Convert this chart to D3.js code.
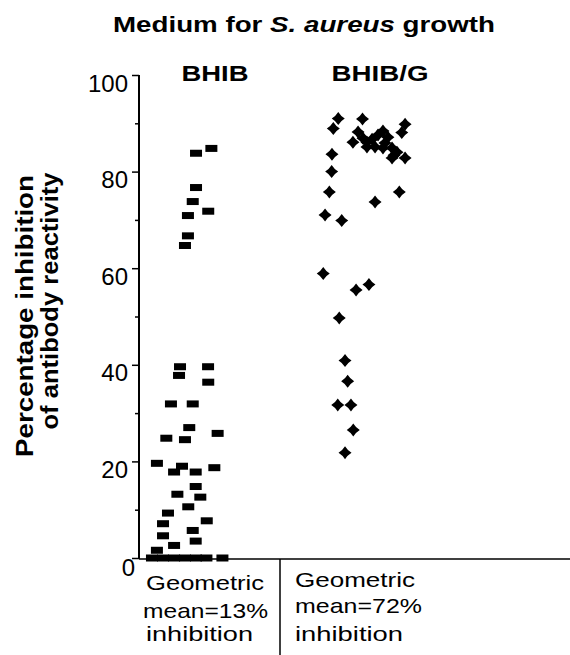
<!DOCTYPE html>
<html>
<head>
<meta charset="utf-8">
<script src="https://cdn.jsdelivr.net/npm/d3@7"></script>
<style>
  body { margin: 0; background: #fff; }
  svg { display: block; }
  text { font-family: "Liberation Sans", Arial, sans-serif; fill: #000; }
</style>
</head>
<body>
<div id="chart"></div>
<script>
// groups and their labels
var groups = ["BHIB", "BHIB/G"];
var groupPos = [1, 2];
var meanLines = [["Geometric", "mean=13%", "inhibition"], ["Geometric", "mean=72%", "inhibition"]];

// y axis ticks
var majorTicks = [0, 20, 40, 60, 80, 100];
var minorTicks = [10, 30, 50, 70, 90];

// BHIB points: jittered group position and % inhibition
var bhibX = [0.885, 0.978, 0.885, 0.865, 0.959, 0.836, 0.836, 0.818,
             0.788, 0.782, 0.958, 0.959,
             0.733, 0.865, 0.844, 0.705, 0.818, 1.016, 0.648, 0.800, 0.752, 0.883, 0.996,
             0.883, 0.772, 0.911, 0.838, 0.715, 0.685, 0.950, 0.685, 0.865, 0.752, 0.883, 0.648,
             0.618, 0.685, 0.752, 0.818, 0.885, 0.948, 1.045];
var bhibY = [83.8, 84.8, 76.7, 73.8, 71.8, 70.9, 66.7, 64.7,
             39.6, 37.8, 39.6, 36.4,
             31.9, 31.9, 27.0, 24.8, 24.5, 25.8, 19.6, 19.0, 17.8, 17.8, 18.7,
             14.8, 13.2, 12.6, 10.6, 9.3, 7.1, 7.7, 4.6, 5.7, 2.6, 3.5, 1.6,
             0, 0, 0, 0, 0, 0, 0];

// BHIB/G points
var bhibgX = [1.747, 1.717, 1.894, 2.152, 2.132, 1.709, 1.707, 1.693, 2.117, 1.970, 1.667,
              1.768, 1.656, 1.855, 1.933, 1.753, 1.788, 1.804, 1.744, 1.824, 1.838, 1.788,
              1.867, 1.836, 1.897, 1.921, 1.952, 1.988, 2.018, 2.048, 1.921, 1.970, 2.030,
              2.073, 2.085, 2.103, 2.152, 2.073, 2.018];
var bhibgY = [91.0, 88.9, 90.9, 89.8, 88.1, 83.6, 80.0, 75.8, 75.8, 73.7, 71.0,
              69.9, 58.9, 55.5, 56.6, 49.7, 40.9, 36.6, 31.7, 31.7, 26.5, 21.8,
              88.2, 86.1, 86.9, 86.1, 86.7, 87.6, 88.4, 87.1, 85.1, 85.1, 85.9,
              84.9, 83.4, 84.0, 82.8, 82.8, 84.9];

var width = 570, height = 655;
var axisX = 139;

var svg = d3.select("#chart").append("svg")
    .attr("width", width)
    .attr("height", height);

var x = d3.scaleLinear().domain([1, 2]).range([215, 380]);
var y = d3.scaleLinear().domain([0, 100]).range([558, 75]);

// stretch a text element to a given width (the original font is wide)
function fit(sel, w) {
    sel.attr("textLength", w).attr("lengthAdjust", "spacingAndGlyphs");
}

// title
var title = svg.append("text")
    .attr("x", 113).attr("y", 32)
    .attr("font-size", 22).attr("font-weight", "bold");
title.append("tspan").text("Medium for ");
title.append("tspan").attr("font-style", "italic").text("S. aureus");
title.append("tspan").text(" growth");
fit(title, 382);

// group labels
svg.selectAll(".group-label")
   .data(groups)
   .enter().append("text")
   .attr("class", "group-label")
   .attr("x", function(d, i) { return x(groupPos[i]); })
   .attr("y", 81)
   .attr("text-anchor", "middle")
   .attr("font-size", 22)
   .attr("font-weight", "bold")
   .text(function(d) { return d; })
   .each(function(d, i) { fit(d3.select(this), i === 0 ? 67 : 97); });

// y axis: major ticks with labels
var yAxis = svg.append("g")
    .attr("transform", "translate(" + axisX + ",0)")
    .call(d3.axisLeft(y).tickValues(majorTicks).tickSize(7).tickSizeOuter(0).tickPadding(4));
yAxis.select(".domain").attr("stroke-width", 2).attr("d", "M0," + (y(100)) + "V" + (y(0) + 1));
yAxis.selectAll(".tick line").attr("stroke-width", 1.5);
yAxis.selectAll(".tick text")
     .attr("font-family", "Liberation Sans, Arial, sans-serif")
     .attr("font-size", 24)
     .attr("dy", 16)
     .attr("x", -11)
     .filter(function(d) { return d === 0; })
     .attr("x", -4).attr("dy", 17);

// minor ticks
var yMinor = svg.append("g")
    .attr("transform", "translate(" + axisX + ",0)")
    .call(d3.axisLeft(y).tickValues(minorTicks).tickSize(4).tickSizeOuter(0).tickFormat(""));
yMinor.select(".domain").remove();
yMinor.selectAll(".tick line").attr("stroke-width", 1.5);

// y axis title (two lines)
var yTitle = [["Percentage inhibition", 33, 316, 282], ["of antibody reactivity", 58, 301, 257]];
yTitle.forEach(function(t) {
    var el = svg.append("text")
        .attr("transform", "translate(" + t[1] + "," + t[2] + ") rotate(-90)")
        .attr("text-anchor", "middle")
        .attr("font-size", 24)
        .attr("font-weight", "bold")
        .text(t[0]);
    fit(el, t[3]);
});

// x axis baseline and group separator
svg.append("line")
   .attr("x1", axisX).attr("x2", width)
   .attr("y1", y(0) + 1).attr("y2", y(0) + 1)
   .attr("stroke", "#000").attr("stroke-width", 1.5);
svg.append("line")
   .attr("x1", 280).attr("x2", 280)
   .attr("y1", y(0) + 1).attr("y2", height)
   .attr("stroke", "#000").attr("stroke-width", 1.5);

// BHIB squares
var bhib = bhibX.map(function(d, i) { return { x: d, y: bhibY[i] }; });
svg.selectAll(".sq")
   .data(bhib)
   .enter().append("rect")
   .attr("class", "sq")
   .attr("x", function(d) { return x(d.x) - 6; })
   .attr("y", function(d) { return y(d.y) - 3.5; })
   .attr("width", 12)
   .attr("height", 7)
   .attr("fill", "#000");

// BHIB/G diamonds with slightly pinched sides
var star4 = {
    draw: function(ctx, size) {
        var r = Math.sqrt(size) / 2, k = r * 0.38;
        ctx.moveTo(0, -r);
        ctx.quadraticCurveTo(k, -k, r, 0);
        ctx.quadraticCurveTo(k, k, 0, r);
        ctx.quadraticCurveTo(-k, k, -r, 0);
        ctx.quadraticCurveTo(-k, -k, 0, -r);
        ctx.closePath();
    }
};
var bhibg = bhibgX.map(function(d, i) { return { x: d, y: bhibgY[i] }; });
svg.selectAll(".dm")
   .data(bhibg)
   .enter().append("path")
   .attr("class", "dm")
   .attr("transform", function(d) { return "translate(" + x(d.x) + "," + y(d.y) + ")"; })
   .attr("d", d3.symbol().type(star4).size(13 * 13))
   .attr("fill", "#000");

// geometric mean notes below the axis
var noteX = [[146, 143, 146], [295, 295, 295]];
var noteY = [[590, 618, 641], [587, 613, 641]];
var noteW = [[118, 125, 107], [120, 127, 108]];
meanLines.forEach(function(lines, g) {
    lines.forEach(function(s, j) {
        var el = svg.append("text")
            .attr("x", noteX[g][j]).attr("y", noteY[g][j])
            .attr("font-size", 21)
            .text(s);
        fit(el, noteW[g][j]);
    });
});
</script>
</body>
</html>
